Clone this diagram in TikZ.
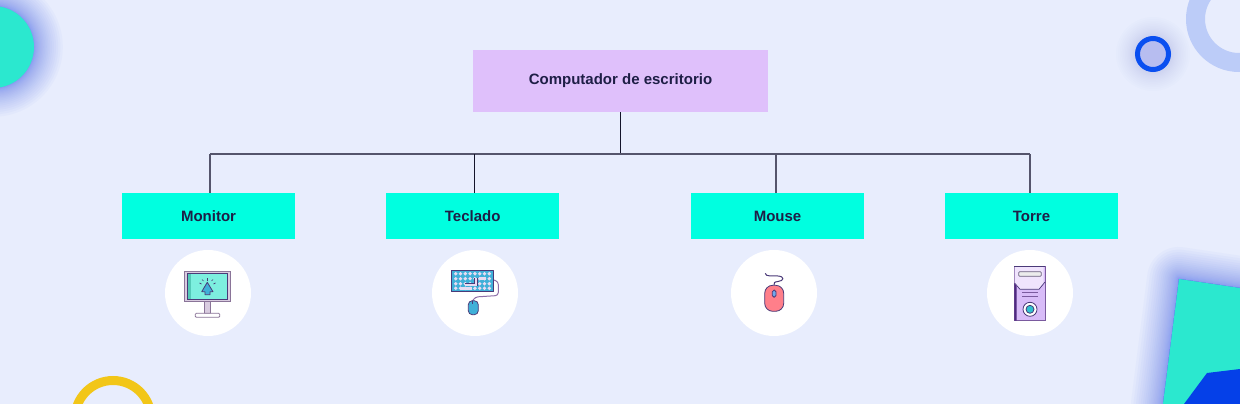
\documentclass[tikz,border=0pt]{standalone}
\usepackage{fontspec}
\setmainfont{Liberation Sans}
\definecolor{pageBg}{HTML}{E8EDFD}
\definecolor{glowBlue}{HTML}{3C5CF0}
\definecolor{decoTeal}{HTML}{2BE8CF}
\definecolor{decoBlue}{HTML}{0540E8}
\definecolor{ringBlue}{HTML}{0A4FF0}
\definecolor{ringPale}{HTML}{BCCCF8}
\definecolor{ringYellow}{HTML}{F2C618}
\definecolor{rootFill}{HTML}{DFC0FB}
\definecolor{childFill}{HTML}{00FFE0}
\definecolor{inkDark}{HTML}{1E1E46}
\definecolor{wireDark}{HTML}{14142A}
\definecolor{wireGrey}{HTML}{55556C}
\definecolor{iconLine}{HTML}{4A3A78}
\definecolor{iconFrame}{HTML}{D9CCE0}
\definecolor{frameLine}{HTML}{8A7498}
\definecolor{iconSky}{HTML}{3FB0D8}
\definecolor{screenLight}{HTML}{7DEFDF}
\definecolor{screenDark}{HTML}{54C9B8}
\definecolor{keyLilac}{HTML}{E8DCF2}
\definecolor{cableLilac}{HTML}{8E6FA8}
\definecolor{mouseRose}{HTML}{FF7F8A}
\definecolor{buttonBlue}{HTML}{6FA8EC}
\definecolor{towerLilac}{HTML}{D8BCF8}
\definecolor{towerPale}{HTML}{F0E4FD}
\definecolor{towerDark}{HTML}{4F2A80}
\definecolor{towerLine}{HTML}{7A5A9E}
\definecolor{slotLine}{HTML}{6B5F7F}
\definecolor{slotFill}{HTML}{ECECEC}
\definecolor{lensCyan}{HTML}{30C0D0}
\tikzset{
  rootbox/.style={fill=rootFill,text=inkDark,minimum width=295pt,minimum height=62pt,text height=10.5pt,text depth=3.5pt,font=\fontsize{15}{17}\selectfont\bfseries},
  childbox/.style={fill=childFill,text=inkDark,minimum width=173pt,minimum height=46pt,text height=12pt,text depth=2pt,font=\fontsize{15}{17}\selectfont\bfseries},
  wire/.style={draw=wireGrey,line width=1.2pt},
  iconback/.style={fill=white,circle,minimum size=86pt,inner sep=0pt},
  iconpen/.style={draw=iconLine,line width=.8pt,line join=round}
}
\begin{document}
\begin{tikzpicture}[x=1pt,y=-1pt]
\useasboundingbox (0,0) rectangle (1240,404);
\clip (0,0) rectangle (1240,404);
\fill[pageBg] (0,0) rectangle (1240,404);

% Corner shapes
\foreach \r in {1,...,24}
  \fill[glowBlue,opacity=.03] (-7,47) circle ({41+\r*\r/20});
\fill[decoTeal] (-7,47) circle (41);
\draw[ringPale,line width=19pt] (1239,19) circle (43.5);
\foreach \r in {1,...,24}
  \fill[glowBlue,opacity=.011] (1153,54) circle ({13+\r*\r/24});
\draw[ringBlue,line width=5pt] (1153,54) circle (15.5);
\draw[ringYellow,line width=9pt] (113,418.6) circle (38.1);
\foreach \r in {1,...,24}
  \draw[glowBlue,fill=glowBlue,opacity=.03,line join=round,line width={\r*\r/9}]
    (1179,279) -- (1240,288) -- (1240,404) -- (1163,404) -- cycle;
\fill[decoTeal] (1179,279) -- (1240,288) -- (1240,404) -- (1163,404) -- cycle;
\fill[decoBlue] (1184,404) -- (1207,373) -- (1240,369) -- (1240,404) -- cycle;

% Boxes
\node[rootbox] (root) at (620.5,81) {Computador de escritorio};
\node[childbox] (monitor) at (208.5,216) {Monitor};
\node[childbox] (teclado) at (472.7,216) {Teclado};
\node[childbox] (mouse) at (777.5,216) {Mouse};
\node[childbox] (torre) at (1031.5,216) {Torre};

% Connectors
\coordinate (busMonitor) at (210,154);
\coordinate (busTeclado) at (474.5,154);
\coordinate (busMouse) at (776,154);
\coordinate (busTorre) at (1030,154);
\draw[wire,draw=wireDark,line width=1pt] (root.south) -- (root.south |- busMonitor);
\draw[wire] (busMonitor) -- (busTorre);
\draw[wire] (busMonitor) -- (busMonitor |- monitor.north);
\draw[wire,draw=wireDark,line width=1pt] (busTeclado) -- (busTeclado |- teclado.north);
\draw[wire] (busMouse) -- (busMouse |- mouse.north);
\draw[wire] (busTorre) -- (busTorre |- torre.north);

% Icon circles
\node[iconback] (iconMonitor) at (208,293) {};
\node[iconback] (iconTeclado) at (475,293) {};
\node[iconback] (iconMouse) at (774,293) {};
\node[iconback] (iconTorre) at (1030,293) {};

% Monitor icon
\draw[frameLine,fill=iconFrame,line width=.8pt] (204.3,301.7) rectangle (210.7,313.3);
\draw[frameLine,fill=white,line width=.8pt,rounded corners=1pt] (195.3,313.3) rectangle (219.7,317.3);
\draw[frameLine,fill=iconFrame,line width=.8pt] (184.7,271) rectangle (230,301.7);
\fill[screenLight] (187.3,273.3) rectangle (227.3,299);
\fill[screenDark] (187.3,273.3) rectangle (190.7,299);
\draw[iconLine,line width=.7pt] (187.3,273.3) rectangle (227.3,299);
\draw[iconpen,fill=iconSky] (207.3,282.3) -- (213,291.7) -- (210,291.7) -- (210,294.7) -- (205,294.7) -- (205,291.7) -- (201.7,291.7) -- cycle;
\foreach \a/\b/\c/\d in {207.3/278/207.3/280.5,202/279.5/203.5/281,213/279.5/211.5/281,199.5/283/201.5/284,215.5/283/213.5/284}
  \draw[iconLine,line width=.7pt] (\a,\b) -- (\c,\d);

% Keyboard icon
\draw[cableLilac,line width=1pt,rounded corners=3pt] (493.7,280) -- (498.3,281.5) -- (498.3,295.5) -- (475,297) -- (472.5,301);
\draw[iconpen,fill=iconSky] (451.3,270.6) rectangle (493.7,291.8);
\foreach \y in {273.7,278.7,283.7,288.3}
  \foreach \x in {0,...,7}
    \fill[keyLilac] ({455.7+4.8*\x},\y) circle (1.9);
\fill[keyLilac] (460,287) rectangle (471.7,289.6);
\fill[keyLilac] (479,277.4) rectangle (486,280);
\draw[iconLine,line width=3.4pt] (465,284.5) -- (476,284.5) -- (476,278);
\draw[keyLilac,line width=2pt] (465,284.5) -- (476,284.5) -- (476,278);
\draw[iconpen,fill=iconSky,rounded corners=4pt] (468.3,300.7) rectangle (478.3,314.7);
\draw[iconLine,line width=.8pt] (472.5,301) -- (472.5,304);

% Mouse icon
\draw[iconLine,line width=1pt] (765.3,273.3) .. controls (765.5,277) and (772,275.5) .. (778,276) .. controls (785,276.5) and (784,281) .. (778,281.5) .. controls (774,281.8) and (774,283) .. (774,285.3);
\draw[iconpen,fill=mouseRose,rounded corners=8pt] (764.7,285.3) rectangle (783.7,311.3);
\draw[iconpen,fill=buttonBlue,rounded corners=1.8pt] (772.3,290) rectangle (776,297.3);

% Tower icon
\draw[towerLine,fill=towerLilac,line width=.8pt] (1014.3,266) rectangle (1045.3,320.7);
\fill[towerPale] (1014.6,266.4) -- (1043.5,266.4) -- (1043.5,283) -- (1039,289.3) -- (1020,289.3) -- (1014.6,283) -- cycle;
\draw[iconLine,line width=.7pt] (1014.6,283) -- (1020,289.3) -- (1039,289.3) -- (1045,282);
\draw[iconLine,line width=.9pt] (1014.3,266) -- (1045.3,266);
\fill[towerDark] (1014.3,283.5) -- (1016.7,286) -- (1016.7,320.7) -- (1014.3,320.7) -- cycle;
\draw[slotLine,fill=slotFill,line width=.8pt,rounded corners=1pt] (1018.7,271.7) rectangle (1041.3,276.3);
\draw[towerLine,line width=.8pt] (1022,292.7) -- (1038.3,292.7);
\draw[towerLine,line width=.8pt] (1022,296.7) -- (1038.3,296.7);
\draw[iconpen,fill=white] (1030,309.3) circle (7);
\draw[iconpen,fill=lensCyan] (1030,309.3) circle (4);
\end{tikzpicture}
\end{document}
